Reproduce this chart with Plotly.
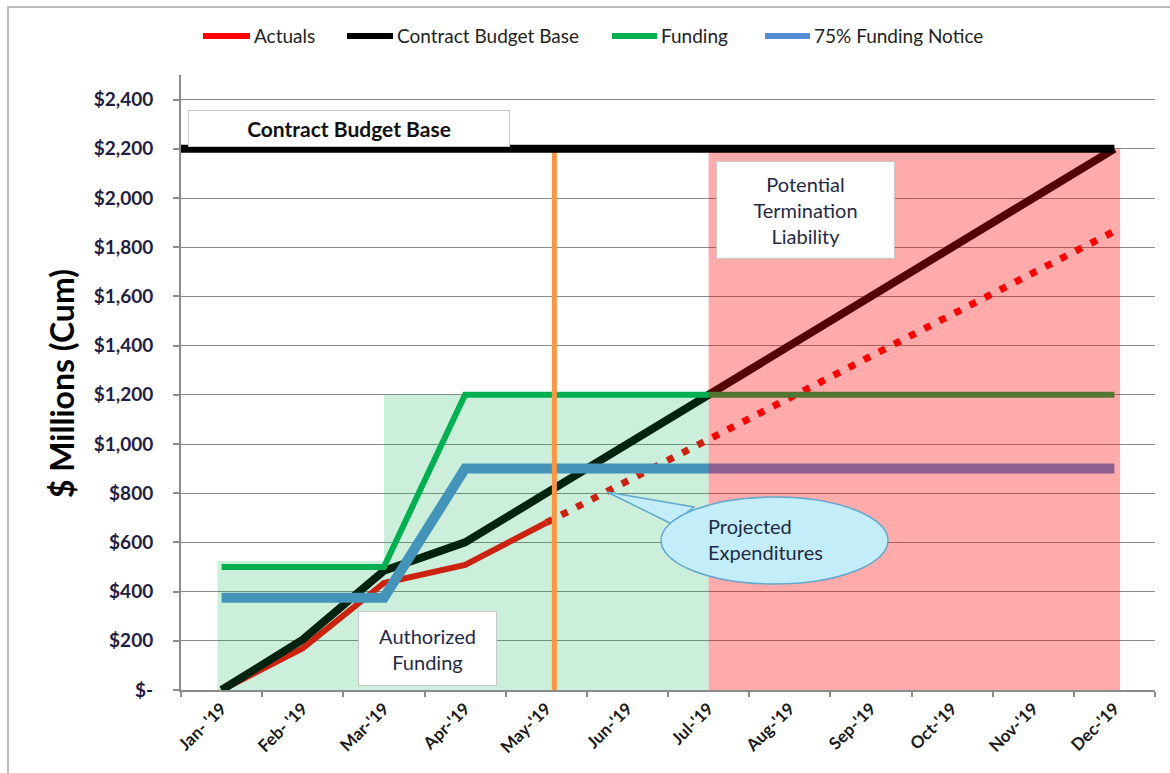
import plotly.graph_objects as go

# ---- data ($ millions, cumulative) ----
months = ["Jan- '19", "Feb- '19", "Mar-'19", "Apr-'19", "May-'19", "Jun-'19",
          "Jul-'19", "Aug-'19", "Sep-'19", "Oct-'19", "Nov-'19", "Dec-'19"]
actuals = [0, 170, 435, 508, 680]                              # Jan..May
projected = [680, 850, 1020, 1190, 1360, 1530, 1700, 1865]      # May..Dec
cbb_plan = [0, 205, 485, 600, 800, 1000, 1200, 1400, 1600, 1800, 2000, 2200]
funding = [500, 500, 500, 1200, 1200, 1200, 1200, 1200, 1200, 1200, 1200, 1200]
notice_75 = [375, 375, 375, 900, 900, 900, 900, 900, 900, 900, 900, 900]
cbb_total = 2200
authorized_early = 525          # initial authorized funding block height
authorized_full = 1200
status_index = 4.1              # status date marker (just after May)
y_ticks = [0, 200, 400, 600, 800, 1000, 1200, 1400, 1600, 1800, 2000, 2200, 2400]
y_tick_text = ["$-", "$200", "$400", "$600", "$800", "$1,000", "$1,200",
               "$1,400", "$1,600", "$1,800", "$2,000", "$2,200", "$2,400"]

RED = "#ff0000"
BLACK = "#000000"
GREEN = "#00b050"
BLUE = "#558ed5"
ORANGE = "#f79646"
TXT = "#1f2a44"

W, H = 1170, 773
L, R, T, B = 181, 15, 75, 83
PW, PH = W - L - R, H - T - B


def px(x):
    return (x - L) / PW


def py(y):
    return (H - B - y) / PH


fig = go.Figure()

fig.add_trace(go.Scatter(x=months[:len(actuals)], y=actuals, mode="lines",
                         line=dict(color=RED, width=6), name="Actuals"))
fig.add_trace(go.Scatter(x=months[len(actuals) - 1:], y=projected, mode="lines",
                         line=dict(color=RED, width=7, dash="7px,10px"),
                         name="Projected"))
fig.add_trace(go.Scatter(x=months, y=cbb_plan, mode="lines",
                         line=dict(color=BLACK, width=8), name="Contract Budget Base"))
fig.add_trace(go.Scatter(x=months, y=funding, mode="lines",
                         line=dict(color=GREEN, width=6), name="Funding"))
fig.add_trace(go.Scatter(x=months, y=notice_75, mode="lines",
                         line=dict(color=BLUE, width=10), name="75% Funding Notice"))

i_mar = months.index("Mar-'19")
i_jul = months.index("Jul-'19")
i_dec = len(months) - 1

shapes = [
    # authorized funding blocks
    dict(type="rect", xref="x", yref="y", x0=-0.05, x1=i_mar, y0=0, y1=authorized_early,
         fillcolor="rgba(0,176,80,0.2)", line=dict(width=0), layer="above"),
    dict(type="rect", xref="x", yref="y", x0=i_mar, x1=i_jul, y0=0, y1=authorized_full,
         fillcolor="rgba(0,176,80,0.2)", line=dict(width=0), layer="above"),
    # potential termination liability
    dict(type="rect", xref="x", yref="y", x0=i_jul, x1=i_dec + 0.07, y0=0, y1=cbb_total,
         fillcolor="rgba(255,0,0,0.33)", line=dict(width=0), layer="above"),
    # status date
    dict(type="line", xref="x", yref="y", x0=status_index, x1=status_index,
         y0=0, y1=cbb_total, line=dict(color=ORANGE, width=5), layer="above"),
    # total contract budget base
    dict(type="line", xref="x", yref="y", x0=-0.5, x1=i_dec, y0=cbb_total, y1=cbb_total,
         line=dict(color=BLACK, width=8), layer="above"),
    # outer frame
    dict(type="path", xref="paper", yref="paper",
         path=f"M {px(8)},{py(790)} L {px(8)},{py(7)} L {px(1190)},{py(7)}",
         line=dict(color="#a6a6a6", width=1.5), layer="above"),
    # callout tail and bubble
    dict(type="path", xref="paper", yref="paper",
         path=f"M {px(607)},{py(492)} L {px(694)},{py(507)} L {px(672)},{py(524)} Z",
         fillcolor="#c4edfa", line=dict(color="#62a8cc", width=1.5), layer="above"),
    dict(type="circle", xref="paper", yref="paper",
         x0=px(661), x1=px(888), y0=py(584), y1=py(497),
         fillcolor="#c4edfa", line=dict(color="#62a8cc", width=1.5), layer="above"),
]

# legend keys
legend_items = [
    ("Actuals", RED, 203, 250),
    ("Contract Budget Base", BLACK, 347, 393),
    ("Funding", GREEN, 612, 657),
    ("75% Funding Notice", BLUE, 765, 810),
]
annotations = []
for label, color, xa, xb in legend_items:
    shapes.append(dict(type="line", xref="paper", yref="paper", x0=px(xa), x1=px(xb),
                       y0=py(36), y1=py(36), line=dict(color=color, width=6)))
    annotations.append(dict(xref="paper", yref="paper", x=px(xb + 2), y=py(36),
                            xanchor="left", yanchor="middle", showarrow=False,
                            text=label, font=dict(family="Lato", size=19, color="#222222")))

box_font = dict(family="Lato", size=20, color=TXT)
annotations += [
    dict(xref="paper", yref="paper", x=px(349), y=py(128.5), xanchor="center",
         yanchor="middle", showarrow=False, text="<b>Contract Budget Base</b>",
         width=320, height=35, bgcolor="white", bordercolor="#c8c8c8", borderwidth=1,
         borderpad=0, font=dict(family="Lato", size=21, color="#111111")),
    dict(xref="paper", yref="paper", x=px(805.5), y=py(210), xanchor="center",
         yanchor="middle", showarrow=False, text="Potential<br>Termination<br>Liability",
         width=177, height=96, bgcolor="white", bordercolor="#c8c8c8", borderwidth=1,
         borderpad=0, font=box_font),
    dict(xref="paper", yref="paper", x=px(427.5), y=py(648.5), xanchor="center",
         yanchor="middle", showarrow=False, text="Authorized<br>Funding",
         width=137, height=73, bgcolor="white", bordercolor="#c8c8c8", borderwidth=1,
         borderpad=0, font=box_font),
    dict(xref="paper", yref="paper", x=px(706), y=py(539), xanchor="left",
         yanchor="middle", showarrow=False, text="Projected<br>Expenditures",
         align="left", font=box_font),
    dict(xref="paper", yref="paper", x=px(61), y=py(384), xanchor="center",
         yanchor="middle", showarrow=False, text="$ Millions (Cum)", textangle=-90,
         font=dict(family="Lato", size=32, color="#000000", weight="bold")),
]

fig.update_layout(
    width=W, height=H,
    margin=dict(l=L, r=R, t=T, b=B),
    paper_bgcolor="white", plot_bgcolor="white",
    showlegend=False,
    shapes=shapes,
    annotations=annotations,
    xaxis=dict(type="category", categoryorder="array", categoryarray=months,
               range=[-0.5, len(months) - 0.5], tickson="boundaries",
               ticks="outside", ticklen=5, tickcolor="#8c8c8c", tickwidth=1.5,
               showgrid=False, showline=True, linecolor="#8c8c8c", linewidth=2,
               tickangle=-45, zeroline=False,
               tickfont=dict(family="Lato", size=17, color="#1a1a1a", weight="bold")),
    yaxis=dict(range=[0, 2500], tickvals=y_ticks, ticktext=y_tick_text,
               ticks="outside", ticklen=6, tickcolor="#8c8c8c", tickwidth=1.5,
               ticklabelstandoff=16,
               showgrid=True, gridcolor="#8a8a8a", gridwidth=1, zeroline=False,
               showline=True, linecolor="#8c8c8c", linewidth=2,
               tickfont=dict(family="Lato", size=19, color="#1f2041", weight="bold")),
)

fig.write_html("out.html")
